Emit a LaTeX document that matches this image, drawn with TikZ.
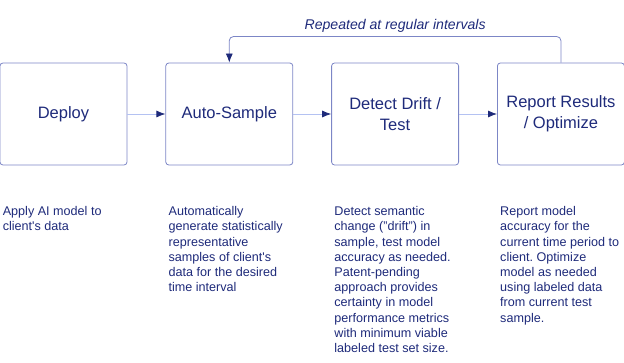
\documentclass[tikz,border=0pt]{standalone}
\usepackage{fontspec}
\setmainfont{Liberation Sans}
\usetikzlibrary{arrows.meta, positioning}
\definecolor{navytext}{HTML}{1E2A7A}
\definecolor{boxline}{HTML}{7C86C6}
\definecolor{arrline}{HTML}{B4C2F2}
\frenchspacing
\tikzset{
  box/.style = {rectangle, draw=boxline, line width=0.8pt, rounded corners=3pt, minimum width=127pt, minimum height=102pt, align=center, text=navytext, font=\fontsize{16.5}{21}\selectfont, inner sep=4pt},
  desc/.style = {anchor=north west, align=left, text=navytext, font=\fontsize{12.6}{15.2}\selectfont, inner sep=0pt},
  note/.style = {text=navytext, font=\fontsize{14.1}{17}\selectfont\itshape},
  arr/.style = {draw=arrline, line width=0.8pt, -{Latex[length=9pt, width=7pt, color=navytext]}},
  looparr/.style = {draw=boxline, line width=0.8pt, rounded corners=4pt, -{Latex[length=9pt, width=7pt, color=navytext]}}
}
\begin{document}
\begin{tikzpicture}[node distance=38pt]
\useasboundingbox (0,0) rectangle (624pt,-363pt);
% Process boxes
\node[box] (deploy) at (63.5pt,-114pt) {Deploy};
\node[box, right=of deploy] (sample) {Auto-Sample};
\node[box, right=of sample] (drift) {Detect Drift /\\Test};
\node[box, right=of drift] (report) {Report Results\\/ Optimize};

% Descriptions
\node[desc] (ddeploy) at ([xshift=3pt, yshift=-41pt]deploy.south west) {Apply AI model to\\client\textquotesingle s data};
\node[desc] (dsample) at ([xshift=3pt, yshift=-41pt]sample.south west) {Automatically\\generate statistically\\representative\\samples of client\textquotesingle s\\data for the desired\\time interval};
\node[desc] (ddrift) at ([xshift=3pt, yshift=-41pt]drift.south west) {Detect semantic\\change ("drift") in\\sample, test model\\accuracy as needed.\\Patent-pending\\approach provides\\certainty in model\\performance metrics\\with minimum viable\\labeled test set size.};
\node[desc] (dreport) at ([xshift=3pt, yshift=-41pt]report.south west) {Report model\\accuracy for the\\current time period to\\client. Optimize\\model as needed\\using labeled data\\from current test\\sample.};

% ----- ARROWS -----
\draw[arr] (deploy.east) -- (sample.west);
\draw[arr] (sample.east) -- (drift.west);
\draw[arr] (drift.east) -- (report.west);
% Loop back
\coordinate (looptop) at ([yshift=26pt]report.north);
\draw[looparr] (report.north) -- (looptop) -- node[note, above] (repeat) {Repeated at regular intervals} (looptop -| sample.north) -- (sample.north);

\end{tikzpicture}
\end{document}
